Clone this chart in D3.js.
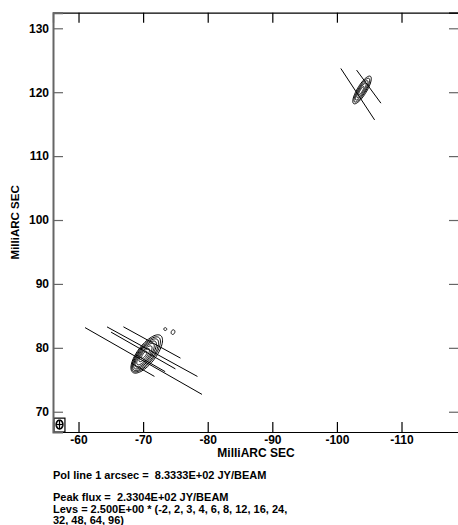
<!DOCTYPE html>
<html><head><meta charset="utf-8">
<script src="https://cdn.jsdelivr.net/npm/d3@7"></script>
<style>
html,body{margin:0;padding:0;background:#fff;}
svg{display:block;}
text{font-family:"Liberation Sans",Arial,Helvetica,sans-serif;font-weight:bold;fill:#000;}
</style></head>
<body>
<script>
// ---- data (milliarcsec) ----
const xTicks = [-60, -70, -80, -90, -100, -110];
const yTicks = [70, 80, 90, 100, 110, 120, 130];
const xDomain = [-56.05, -118.9];
const yDomain = [66.83, 132.44];
// contour rings: centre x, centre y, major (mas), minor (mas), position angle (deg)
const contourCx  = [-70.56,-70.46,-70.38,-70.30,-70.24,-70.20,-70.18,-70.18, -103.89,-103.86,-103.83,-103.80,-103.78, -73.43,-74.63];
const contourCy  = [ 79.04, 78.98, 78.92, 78.88, 78.84, 78.82, 78.86, 78.90,  120.35, 120.32, 120.29, 120.27, 120.25,  82.93, 82.46];
const contourMaj = [  7.2,   6.6,   6.0,   5.3,   4.5,   3.6,   2.5,   1.3,     5.0,    4.3,    3.5,    2.6,    1.5,    0.45,  0.75];
const contourMin = [  2.85,  2.5,   2.2,   1.85,  1.55,  1.2,   0.85,  0.45,    1.45,   1.15,   0.9,    0.62,   0.35,   0.45,  0.55];
const contourPA  = [ -37,   -37,   -37,   -37,   -37,   -37,   -37,   -37,     -31,    -31,    -31,    -31,    -31,    0,     -20];
// polarization vectors: centre x, centre y, length (mas), position angle (deg)
const polX   = [-70.06,-71.41,-71.37,-70.02,-70.02,-71.34, -103.22,-104.93];
const polY   = [ 77.94, 79.40, 80.84, 79.58, 76.53, 77.47,  119.69, 120.87];
const polLen = [ 20.9,  16.0,  10.1,  11.5,   4.0,   4.8,     9.6,    6.4];
const polPA  = [ 60,    61,    61,    60,    60,    60,      33,     36];
// beam
const beamX = -57.06, beamY = 68.0, beamMaj = 1.36, beamMin = 1.03, beamPA = 0;
const beamBox = [-56.2, -57.9, 66.83, 69.0];
const textLines = [
  "Pol line 1 arcsec =  8.3333E+02 JY/BEAM",
  "Peak flux =  2.3304E+02 JY/BEAM",
  "Levs = 2.500E+00 * (-2, 2, 3, 4, 6, 8, 12, 16, 24,",
  "32, 48, 64, 96)"
];

const W = 458, H = 525;
const L = 53, R = 459, T = 12.7, B = 432;
const x = d3.scaleLinear().domain(xDomain).range([L, R]);
const y = d3.scaleLinear().domain(yDomain).range([B, T]);

const svg = d3.select("body").append("svg").attr("width", W).attr("height", H);

// contours
const g = svg.append("g");
function ellipsePath(cx, cy, maj, min, pa) {
  const pts = [];
  const th = pa * Math.PI / 180;
  for (let i = 0; i <= 72; i++) {
    const t = i / 72 * 2 * Math.PI;
    const u = Math.cos(t) * min / 2, v = Math.sin(t) * maj / 2;
    const dx = v * Math.sin(th) + u * Math.cos(th);
    const dy = v * Math.cos(th) - u * Math.sin(th);
    pts.push([x(cx + dx), y(cy + dy)]);
  }
  return d3.line()(pts) + "Z";
}
contourCx.forEach((cx, i) => {
  g.append("path").attr("d", ellipsePath(cx, contourCy[i], contourMaj[i], contourMin[i], contourPA[i]))
    .attr("fill", "none").attr("stroke", "#000").attr("stroke-width", 1);
});
// pol vectors
polX.forEach((px, i) => {
  const th = polPA[i] * Math.PI / 180, h = polLen[i] / 2;
  const dx = h * Math.sin(th), dy = h * Math.cos(th);
  g.append("line")
    .attr("x1", x(px + dx)).attr("y1", y(polY[i] + dy))
    .attr("x2", x(px - dx)).attr("y2", y(polY[i] - dy))
    .attr("stroke", "#000").attr("stroke-width", 1);
});
// beam
svg.append("rect").attr("x", x(beamBox[0])).attr("y", y(beamBox[3]))
  .attr("width", x(beamBox[1]) - x(beamBox[0])).attr("height", y(beamBox[2]) - y(beamBox[3]))
  .attr("fill", "none").attr("stroke", "#000").attr("stroke-width", 1.2);
svg.append("path").attr("d", ellipsePath(beamX, beamY, beamMaj, beamMin, beamPA))
  .attr("fill", "none").attr("stroke", "#000").attr("stroke-width", 1.6);
svg.append("line").attr("x1", x(beamX + beamMin / 2)).attr("x2", x(beamX - beamMin / 2))
  .attr("y1", y(beamY)).attr("y2", y(beamY)).attr("stroke", "#000").attr("stroke-width", 1.2);
svg.append("line").attr("x1", x(beamX)).attr("x2", x(beamX))
  .attr("y1", y(beamY + beamMaj / 2)).attr("y2", y(beamY - beamMaj / 2)).attr("stroke", "#000").attr("stroke-width", 1.2);

// axes
const fmt = d => String(d);
const ax = svg.append("g").attr("transform", `translate(0,${B})`)
  .call(d3.axisBottom(x).tickValues(xTicks).tickSize(-10).tickPadding(3.5).tickFormat(fmt));
const at = svg.append("g").attr("transform", `translate(0,${T})`)
  .call(d3.axisTop(x).tickValues(xTicks).tickSize(-10).tickFormat(""));
const al = svg.append("g").attr("transform", `translate(${L},0)`)
  .call(d3.axisLeft(y).tickValues(yTicks).tickSize(-10).tickPadding(4).tickFormat(fmt));
const ar = svg.append("g").attr("transform", `translate(${R},0)`)
  .call(d3.axisRight(y).tickValues(yTicks).tickSize(-10).tickFormat(""));
[ax, at, al, ar].forEach(a => {
  a.select(".domain").attr("stroke", "#000").attr("stroke-width", 1.2);
  a.selectAll(".tick line").attr("stroke", "#000").attr("stroke-width", 1.2);
  a.selectAll("text").attr("font-size", 12).attr("font-family", "Liberation Sans, Arial, sans-serif")
    .attr("font-weight", "bold").attr("fill", "#000");
});
al.select(".domain").attr("stroke", "#666").attr("stroke-width", 2);
al.selectAll(".tick line").attr("stroke", "#666");
ar.selectAll(".tick line").attr("stroke", "#666");

// axis titles
svg.append("text").attr("x", (L + R) / 2).attr("y", 456.5).attr("text-anchor", "middle")
  .attr("font-size", 12).text("MilliARC SEC");
svg.append("text").attr("transform", `translate(18.5,${(T + B) / 2}) rotate(-90)`).attr("text-anchor", "middle")
  .attr("font-size", 11.5).text("MilliARC SEC");

// footer text
const baselines = [479, 501, 512.5, 523.5];
textLines.forEach((t, i) => {
  svg.append("text").attr("x", L).attr("y", baselines[i]).attr("font-size", 11)
    .style("white-space", "pre").text(t);
});
</script>
</body></html>
